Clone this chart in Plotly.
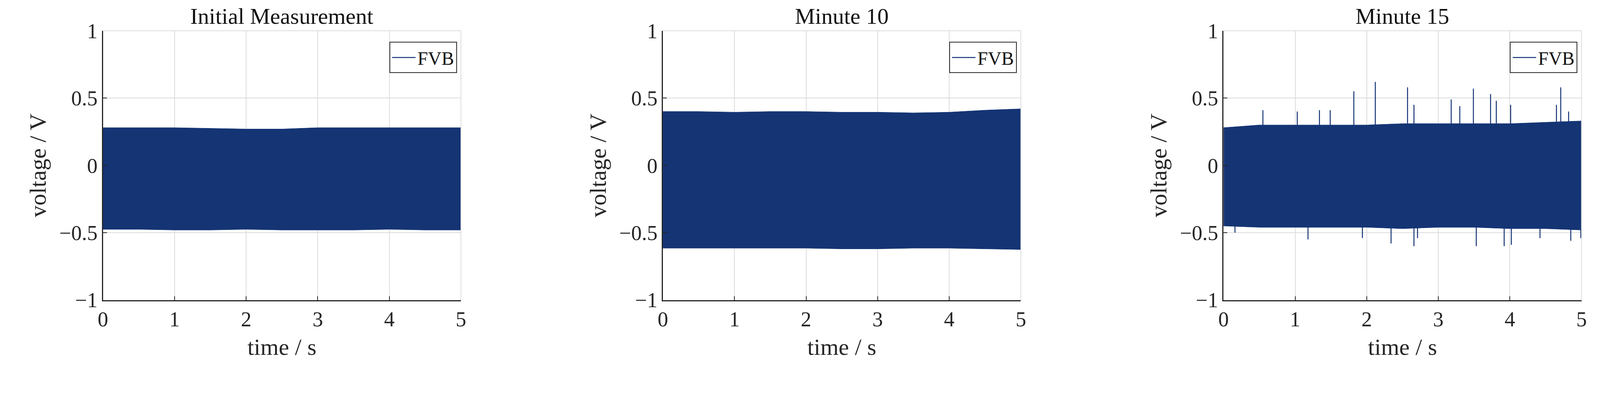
import plotly.graph_objects as go

# envelope of the FVB voltage signal (0.5 s steps)
t_env = [0, 0.5, 1, 1.5, 2, 2.5, 3, 3.5, 4, 4.5, 5]

init_upper = [0.28, 0.28, 0.28, 0.275, 0.27, 0.27, 0.28, 0.28, 0.28, 0.28, 0.28]
init_lower = [-0.475, -0.475, -0.48, -0.48, -0.475, -0.48, -0.48, -0.48, -0.475, -0.48, -0.48]

min10_upper = [0.40, 0.40, 0.395, 0.40, 0.40, 0.395, 0.395, 0.39, 0.395, 0.41, 0.42]
min10_lower = [-0.615, -0.615, -0.615, -0.615, -0.615, -0.62, -0.62, -0.615, -0.615, -0.62, -0.625]

min15_upper = [0.28, 0.30, 0.30, 0.30, 0.30, 0.31, 0.31, 0.31, 0.31, 0.32, 0.33]
min15_lower = [-0.45, -0.46, -0.46, -0.46, -0.46, -0.47, -0.46, -0.46, -0.47, -0.47, -0.48]

# isolated spikes in the minute-15 record
spike_t = [0.55, 1.03, 1.34, 1.49, 1.82, 2.12, 2.57, 2.66, 3.18, 3.30, 3.49, 3.73, 3.81, 4.01, 4.65, 4.71, 4.82,
           0.16, 1.18, 1.94, 2.34, 2.66, 2.71, 3.53, 3.92, 4.02, 4.42, 4.85, 4.99]
spike_v = [0.41, 0.40, 0.41, 0.41, 0.55, 0.62, 0.58, 0.45, 0.49, 0.44, 0.57, 0.53, 0.48, 0.45, 0.45, 0.58, 0.40,
           -0.50, -0.55, -0.54, -0.58, -0.60, -0.54, -0.60, -0.60, -0.59, -0.54, -0.56, -0.54]

titles = ["Initial Measurement", "Minute 10", "Minute 15"]
COLOR = "#143474"
FONT = "Liberation Serif"

x_domains = [[257 / 4328, 1232 / 4328], [1782 / 4328, 2757 / 4328], [3309 / 4328, 4284 / 4328]]
y_domain = [1 - 813 / 1017 + 0.035, 1 - 80 / 1017 + 0.035]

fig = go.Figure()
panels = [(init_upper, init_lower), (min10_upper, min10_lower), (min15_upper, min15_lower)]
for i, (up, lo) in enumerate(panels):
    k = "" if i == 0 else str(i + 1)
    xa, ya = "x" + k, "y" + k
    fig.add_trace(go.Scatter(x=t_env + t_env[::-1], y=up + lo[::-1], fill="toself",
                             fillcolor=COLOR, mode="lines", line=dict(color=COLOR, width=1),
                             showlegend=False, xaxis=xa, yaxis=ya))
    if i == 2:
        sx, sy = [], []
        for t, v in zip(spike_t, spike_v):
            sx += [t, t, None]
            sy += [0, v, None]
        fig.add_trace(go.Scatter(x=sx, y=sy, mode="lines", line=dict(color=COLOR, width=2.5),
                                 showlegend=False, xaxis=xa, yaxis=ya))
    fig.add_trace(go.Scatter(x=[None], y=[None], mode="lines", name="FVB",
                             line=dict(color=COLOR, width=2.5), xaxis=xa, yaxis=ya,
                             legend="legend" + k))
    axis_common = dict(showgrid=True, gridcolor="#dcdcdc", gridwidth=2, showline=True,
                       linecolor="#262626", linewidth=3, ticks="inside", ticklen=10,
                       tickwidth=2, tickcolor="#262626", zeroline=False,
                       tickfont=dict(family=FONT, size=54, color="#262626"))
    fig.update_layout({
        "xaxis" + k: dict(domain=x_domains[i], range=[0, 5], tickvals=[0, 1, 2, 3, 4, 5],
                          anchor=ya, title=dict(text="time / s", standoff=20,
                                                font=dict(family=FONT, size=60, color="#262626")),
                          **axis_common),
        "yaxis" + k: dict(domain=y_domain, range=[-1, 1], tickvals=[-1, -0.5, 0, 0.5, 1],
                          ticktext=["\u22121", "\u22120.5", "0", "0.5", "1"], anchor=xa,
                          title=dict(text="voltage / V", standoff=15,
                                     font=dict(family=FONT, size=60, color="#262626")),
                          **axis_common),
        "legend" + k: dict(x=x_domains[i][1] - 0.0025, y=y_domain[1] - 0.03, xanchor="right",
                           yanchor="top", xref="paper", yref="paper", bgcolor="white",
                           bordercolor="#262626", borderwidth=2, itemwidth=60,
                           font=dict(family=FONT, size=48, color="#111111")),
    })
    # top and right border drawn as grid-coloured lines
    fig.add_shape(type="line", xref=xa + " domain", yref=ya + " domain", x0=0, x1=1, y0=1, y1=1,
                  line=dict(color="#dcdcdc", width=2))
    fig.add_shape(type="line", xref=xa + " domain", yref=ya + " domain", x0=1, x1=1, y0=0, y1=1,
                  line=dict(color="#dcdcdc", width=2))
    fig.add_annotation(text=titles[i], x=sum(x_domains[i]) / 2, y=y_domain[1] + 0.003,
                       xref="paper", yref="paper", xanchor="center", yanchor="bottom",
                       showarrow=False, font=dict(family=FONT, size=58, color="#111111"))

fig.update_layout(autosize=True, margin=dict(l=0, r=0, t=0, b=0),
                  plot_bgcolor="white", paper_bgcolor="white")
fig.write_html("out.html", default_width="100vw", default_height="100vh",
               config={"responsive": True})
